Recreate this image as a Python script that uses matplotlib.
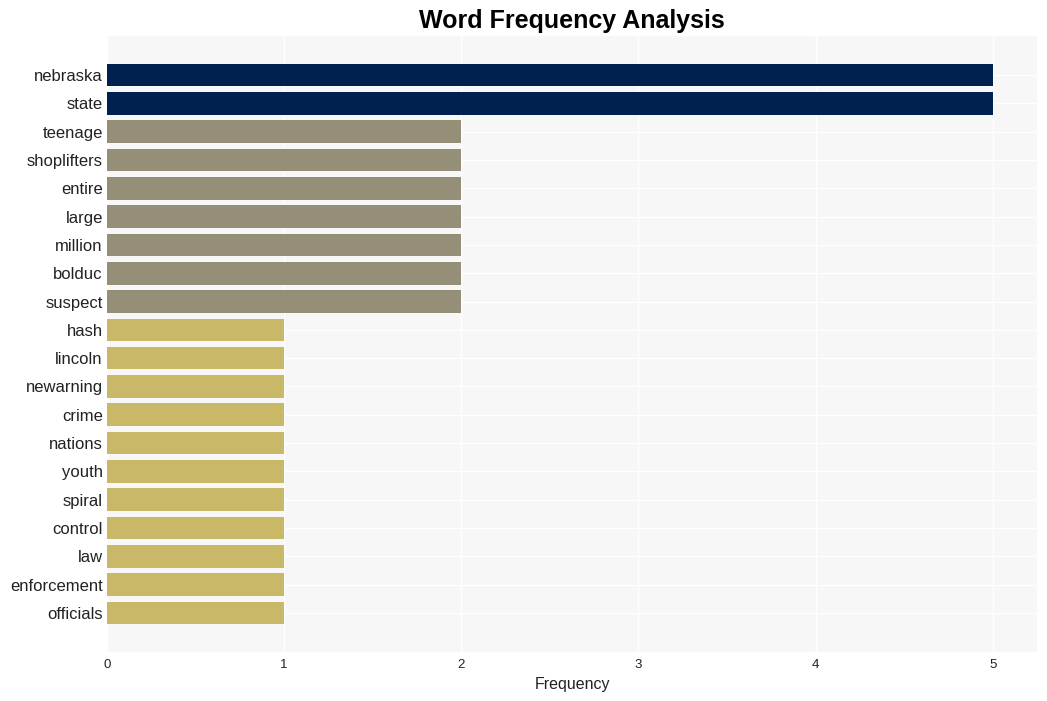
import matplotlib
matplotlib.use("Agg")
import matplotlib.pyplot as plt

plt.rcParams["font.family"] = ["Liberation Sans", "DejaVu Sans"]

words = ["nebraska", "state", "teenage", "shoplifters", "entire", "large", "million",
         "bolduc", "suspect", "hash", "lincoln", "newarning", "crime", "nations",
         "youth", "spiral", "control", "law", "enforcement", "officials"]
counts = [5, 5, 2, 2, 2, 2, 2, 2, 2, 1, 1, 1, 1, 1, 1, 1, 1, 1, 1, 1]
xticks = [0, 1, 2, 3, 4, 5]

def bar_color(c):
    if c >= 5:
        return "#00214f"
    if c >= 2:
        return "#968f77"
    return "#c8b867"

fig = plt.figure(figsize=(10.47, 7.01), dpi=100)
ax = fig.add_axes([107 / 1047, 1 - 652 / 701, (1037 - 107) / 1047, (652 - 36) / 701])
ax.set_facecolor("#f7f7f7")

ypos = list(range(len(words)))
ax.barh(ypos, counts, height=0.8, color=[bar_color(c) for c in counts], zorder=2)

ax.set_xlim(0, 5.25)
ax.set_ylim(len(words) - 1 + 1.38, -1.38)
ax.set_yticks(ypos)
ax.set_yticklabels(words, fontsize=12, color="#222222")
ax.set_xticks(xticks)
ax.set_xticklabels([str(t) for t in xticks], fontsize=9.5, color="#222222")
ax.tick_params(axis="y", length=0, pad=3)
ax.tick_params(axis="x", length=0, pad=5)
ax.grid(True, color="white", linewidth=1, zorder=0)
ax.set_axisbelow(True)
for s in ax.spines.values():
    s.set_visible(False)

ax.set_xlabel("Frequency", fontsize=11.5, color="#222222", labelpad=4)
ax.set_title("Word Frequency Analysis", fontsize=18, fontweight="bold", pad=6)

fig.savefig("out.png", dpi=100)
